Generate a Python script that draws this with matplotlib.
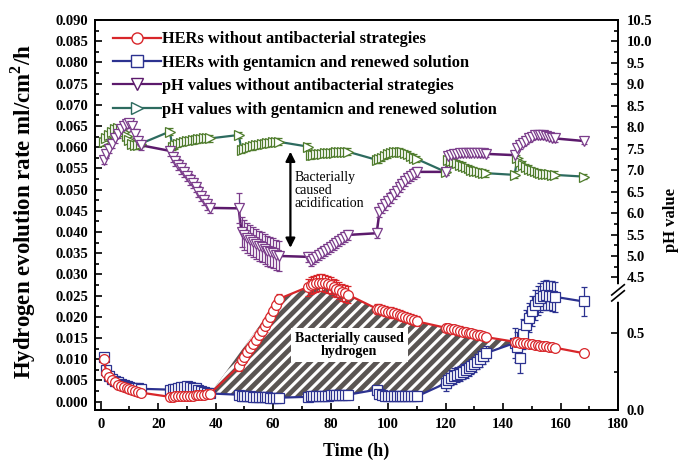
import numpy as np
import matplotlib
matplotlib.use("Agg")
import matplotlib.pyplot as plt
import matplotlib.transforms as mtransforms
from matplotlib.lines import Line2D
from matplotlib.ticker import MultipleLocator, FixedLocator, FormatStrFormatter

plt.rcParams["font.family"] = ["Liberation Serif", "DejaVu Serif"]
plt.rcParams["font.weight"] = "bold"
plt.rcParams["axes.labelweight"] = "bold"
plt.rcParams["hatch.linewidth"] = 2.2
plt.rcParams["mathtext.fontset"] = "custom"
plt.rcParams["mathtext.rm"] = "Liberation Serif:bold"
plt.rcParams["mathtext.bf"] = "Liberation Serif:bold"

# sampling windows (h): hourly points from each start, last single point at 168 h
GROUP_START = [1, 24, 48, 72, 96, 120, 144, 168]

# HERs without antibacterial strategies (ml/cm2/h)
her_plain = [
    [0.0100, 0.0068, 0.0058, 0.0050, 0.0045, 0.0040, 0.0037, 0.0034, 0.0031, 0.0029, 0.0027, 0.0025, 0.0023, 0.0021],
    [0.0011, 0.0011, 0.0012, 0.0012, 0.0012, 0.0013, 0.0013, 0.0014, 0.0014, 0.0015, 0.0015, 0.0016, 0.0016, 0.0017, 0.0018],
    [0.0083, 0.0098, 0.0106, 0.0116, 0.0126, 0.0136, 0.0146, 0.0156, 0.0166, 0.0177, 0.0188, 0.0200, 0.0213, 0.0228, 0.0242],
    [0.0270, 0.0274, 0.0277, 0.0279, 0.0280, 0.0280, 0.0279, 0.0277, 0.0274, 0.0270, 0.0266, 0.0262, 0.0258, 0.0255, 0.0252],
    [0.0219, 0.0218, 0.0216, 0.0214, 0.0212, 0.0210, 0.0208, 0.0206, 0.0204, 0.0202, 0.0200, 0.0197, 0.0195, 0.0192, 0.0189],
    [0.0174, 0.0173, 0.0171, 0.0170, 0.0168, 0.0167, 0.0165, 0.0164, 0.0162, 0.0161, 0.0159, 0.0158, 0.0156, 0.0154, 0.0152],
    [0.0141, 0.0140, 0.0139, 0.0138, 0.0137, 0.0136, 0.0135, 0.0134, 0.0133, 0.0132, 0.0131, 0.0130, 0.0129, 0.0128, 0.0127],
    [0.0114],
]
her_plain_err = [0.0006, 0.0004, 0.0012, 0.0020, 0.0012, 0.0010, 0.0006, 0.0006]

# HERs with gentamicn and renewed solution
her_genta = [
    [0.0104, 0.0075, 0.0060, 0.0053, 0.0048, 0.0045, 0.0042, 0.0039, 0.0036, 0.0034, 0.0033, 0.0032, 0.0031, 0.0030],
    [0.0028, 0.0029, 0.0030, 0.0032, 0.0034, 0.0035, 0.0036, 0.0035, 0.0033, 0.0031, 0.0028, 0.0025, 0.0023, 0.0021, 0.0019],
    [0.0016, 0.0014, 0.0013, 0.0012, 0.0012, 0.0011, 0.0011, 0.0010, 0.0010, 0.0010, 0.0010, 0.0009, 0.0009, 0.0009, 0.0009],
    [0.0011, 0.0012, 0.0012, 0.0013, 0.0013, 0.0014, 0.0014, 0.0014, 0.0015, 0.0015, 0.0015, 0.0015, 0.0016, 0.0016, 0.0016],
    [0.0028, 0.0018, 0.0015, 0.0014, 0.0013, 0.0013, 0.0012, 0.0012, 0.0012, 0.0012, 0.0012, 0.0012, 0.0012, 0.0012, 0.0012],
    [0.0043, 0.0050, 0.0056, 0.0060, 0.0063, 0.0066, 0.0070, 0.0074, 0.0078, 0.0083, 0.0088, 0.0094, 0.0100, 0.0107, 0.0114],
    [0.0138, 0.0128, 0.0103, 0.0160, 0.0180, 0.0198, 0.0214, 0.0228, 0.0238, 0.0245, 0.0250, 0.0251, 0.0250, 0.0249, 0.0247],
    [0.0236],
]
her_genta_err = [0.0007, 0.0006, 0.0004, 0.0004, 0.0004, 0.0018, 0.0035, 0.0035]

# pH values without antibacterial strategies
ph_plain = [
    [7.24, 7.38, 7.50, 7.62, 7.74, 7.85, 7.95, 8.03, 8.08, 8.10, 8.02, 7.85, 7.68, 7.58],
    [7.45, 7.30, 7.22, 7.13, 7.04, 6.95, 6.86, 6.78, 6.70, 6.60, 6.50, 6.40, 6.30, 6.20, 6.12],
    [6.11, 5.55, 5.48, 5.42, 5.37, 5.33, 5.28, 5.24, 5.20, 5.16, 5.12, 5.09, 5.06, 5.03, 5.00],
    [4.98, 4.88, 4.93, 4.98, 5.03, 5.08, 5.12, 5.17, 5.21, 5.26, 5.30, 5.35, 5.39, 5.44, 5.49],
    [5.53, 6.03, 6.12, 6.20, 6.28, 6.36, 6.44, 6.52, 6.60, 6.67, 6.74, 6.81, 6.87, 6.92, 6.96],
    [6.96, 7.32, 7.35, 7.37, 7.38, 7.39, 7.40, 7.40, 7.41, 7.41, 7.40, 7.40, 7.39, 7.39, 7.38],
    [7.35, 7.52, 7.58, 7.64, 7.69, 7.74, 7.78, 7.81, 7.82, 7.82, 7.81, 7.80, 7.78, 7.76, 7.74],
    [7.68],
]
ph_plain_err = [0.10, 0.12, 0.35, 0.12, 0.12, 0.08, 0.08, 0.08]

# pH values with gentamicn and renewed solution
ph_genta = [
    [7.65, 7.75, 7.83, 7.90, 7.95, 7.98, 7.96, 7.90, 7.80, 7.70, 7.62, 7.58, 7.58, 7.62],
    [7.90, 7.55, 7.58, 7.62, 7.64, 7.66, 7.68, 7.69, 7.70, 7.71, 7.72, 7.73, 7.74, 7.74, 7.74],
    [7.82, 7.47, 7.50, 7.52, 7.54, 7.56, 7.58, 7.59, 7.61, 7.62, 7.63, 7.64, 7.65, 7.66, 7.66],
    [7.55, 7.35, 7.36, 7.37, 7.38, 7.38, 7.39, 7.40, 7.40, 7.41, 7.42, 7.42, 7.43, 7.43, 7.43],
    [7.24, 7.25, 7.29, 7.33, 7.37, 7.40, 7.42, 7.43, 7.43, 7.42, 7.40, 7.37, 7.33, 7.29, 7.26],
    [6.96, 7.24, 7.22, 7.19, 7.16, 7.13, 7.10, 7.07, 7.04, 7.01, 6.99, 6.97, 6.95, 6.94, 6.93],
    [6.89, 7.28, 7.20, 7.13, 7.07, 7.03, 7.00, 6.97, 6.95, 6.93, 6.92, 6.91, 6.90, 6.89, 6.89],
    [6.85],
]
ph_genta_err = [0.08, 0.08, 0.08, 0.08, 0.08, 0.08, 0.08, 0.05]

labels = [
    "HERs without antibacterial strategies",
    "HERs with gentamicn and renewed solution",
    "pH values without antibacterial strategies",
    "pH values with gentamicn and renewed solution",
]

RED = "#d8262a"
BLUE = "#2c3290"
PURPLE = "#5c1a6c"
PURPLE_M = "#7b3d8b"
GREEN_L = "#2d6b5f"
GREEN_M = "#4f7c2c"


def flatten(groups, errs):
    t, y, e = [], [], []
    for start, vals, err in zip(GROUP_START, groups, errs):
        for k, v in enumerate(vals):
            t.append(start + k)
            y.append(v)
            e.append(err)
    return np.array(t, float), np.array(y), np.array(e)


t_r, y_r, e_r = flatten(her_plain, her_plain_err)
t_b, y_b, e_b = flatten(her_genta, her_genta_err)
t_p, y_p, e_p = flatten(ph_plain, ph_plain_err)
t_g, y_g, e_g = flatten(ph_genta, ph_genta_err)

fig = plt.figure(figsize=(6.79, 4.63), dpi=100)
ax = fig.add_axes([0.1399, 0.1145, 0.7703, 0.8423])
ax2 = ax.twinx()

ax.set_xlim(-2, 180)
ax.set_ylim(-0.002, 0.090)
# right axis: pH on the upper part, broken lower part
PH_BOTTOM = 1.41
LOW_SCALE = 3.574  # ax2 units per lower-scale unit
ax2.set_ylim(PH_BOTTOM, 10.5)

# hatched area between the two HER curves
keep = ~((t_r > 38) & (t_r < 62))
tt = np.linspace(38, 168, 3000)
top = np.interp(tt, t_r[keep], y_r[keep])
bot = np.interp(tt, t_b, y_b)
ax.fill_between(tt, bot, top, where=(top >= bot) & (tt < 150), interpolate=True,
                facecolor="#5a5553", edgecolor="white", hatch="///", linewidth=0, zorder=1)

eb_kw = dict(ms=7, mfc="white", capsize=2.5, elinewidth=0.9, lw=1.6, mew=0.9)
ax.errorbar(t_b, y_b, yerr=e_b, fmt="-s", color=BLUE, mec=BLUE, ecolor=BLUE, zorder=3, **eb_kw)
ax.errorbar(t_r, y_r, yerr=e_r, fmt="-o", color=RED, mec=RED, ecolor=RED, zorder=4, **eb_kw)
ax2.errorbar(t_g, y_g, yerr=e_g, fmt=">", color=GREEN_M, mec=GREEN_M, ecolor=GREEN_M, zorder=3, **eb_kw)
ax2.plot(t_g, y_g, color=GREEN_L, lw=1.6, zorder=2)
ax2.errorbar(t_p, y_p, yerr=e_p, fmt="v", color=PURPLE_M, mec=PURPLE_M, ecolor=PURPLE_M, zorder=3, **eb_kw)
ax2.plot(t_p, y_p, color=PURPLE, lw=1.8, zorder=2)

# annotations
ax.annotate("", xy=(66, 0.0356), xytext=(66, 0.0596),
            arrowprops=dict(arrowstyle="<|-|>", color="black", lw=1.6, mutation_scale=14))
ax.text(67.4, 0.0498, "Bacterially\ncaused\nacidification", fontsize=10, fontweight="normal",
        ha="left", va="center", linespacing=1.0)
ax.text(86.5, 0.0133, "Bacterially caused\nhydrogen", fontsize=10, fontweight="bold",
        ha="center", va="center", linespacing=1.0, zorder=5,
        bbox=dict(facecolor="white", edgecolor="none", pad=3))

# axes styling
for a in (ax, ax2):
    for s in a.spines.values():
        s.set_linewidth(1.3)
ax.xaxis.set_major_locator(MultipleLocator(20))
ax.xaxis.set_minor_locator(MultipleLocator(10))
ax.yaxis.set_major_locator(MultipleLocator(0.005))
ax.yaxis.set_minor_locator(MultipleLocator(0.0025))
ax.yaxis.set_major_formatter(FormatStrFormatter("%.3f"))
ax.tick_params(which="both", direction="in", top=False, right=False, labelsize=10.5, width=1.2)
ax.tick_params(which="major", length=5)
ax.tick_params(which="minor", length=3)
ax.tick_params(axis="y", pad=5)
ax.tick_params(axis="x", pad=6)

ph_ticks = [4.5, 5.0, 5.5, 6.0, 6.5, 7.0, 7.5, 8.0, 8.5, 9.0, 9.5, 10.0, 10.5]
low_ticks = [0.0, 0.5]
major_pos = [PH_BOTTOM + v * LOW_SCALE for v in low_ticks] + ph_ticks
major_lab = ["%.1f" % v for v in low_ticks] + ["%.1f" % v for v in ph_ticks]
minor_pos = [PH_BOTTOM + 0.25 * LOW_SCALE] + [v + 0.25 for v in ph_ticks[:-1]]
ax2.yaxis.set_major_locator(FixedLocator(major_pos))
ax2.set_yticklabels(major_lab)
ax2.yaxis.set_minor_locator(FixedLocator(minor_pos))
ax2.tick_params(which="both", direction="in", labelsize=10.5, width=1.2, pad=6)
ax2.tick_params(which="major", length=5)
ax2.tick_params(which="minor", length=3)

# axis break on the right spine
brk = 4.14
trans = mtransforms.blended_transform_factory(ax2.transAxes, ax2.transData)
ax2.plot([1, 1], [brk - 0.14, brk + 0.14], color="white", lw=4, transform=trans, clip_on=False, zorder=10)
for off in (-0.07, 0.07):
    ax2.plot([0.988, 1.012], [brk + off - 0.12, brk + off + 0.12], color="black", lw=1.2,
             transform=trans, clip_on=False, zorder=11)

ax.set_xlabel("Time (h)", fontsize=13, fontweight="bold")
ax.xaxis.set_label_coords(0.499, -0.083)
ax.set_ylabel("Hydrogen evolution rate ml/cm$^2$/h", fontsize=16.5, fontweight="bold")
ax.yaxis.set_label_coords(-0.109, 0.509)
ax2.set_ylabel("pH value", fontsize=12, fontweight="bold")
ax2.yaxis.set_label_coords(1.086, 0.487)

handles = [
    Line2D([], [], color=RED, marker="o", mfc="white", mec=RED, ms=8, lw=1.6),
    Line2D([], [], color=BLUE, marker="s", mfc="white", mec=BLUE, ms=8, lw=1.6),
    Line2D([], [], color=PURPLE, marker="v", mfc="white", mec=PURPLE, ms=9, lw=1.6),
    Line2D([], [], color=GREEN_L, marker=">", mfc="white", mec=GREEN_L, ms=9, lw=1.6),
]
ax2.legend(handles, labels, loc="upper left", bbox_to_anchor=(0.013, 1.0), frameon=False,
           prop={"size": 11.8, "weight": "bold"}, handlelength=2.9, handletextpad=0.1,
           borderaxespad=0.3, labelspacing=0.45)

fig.savefig("out.png", dpi=100)
